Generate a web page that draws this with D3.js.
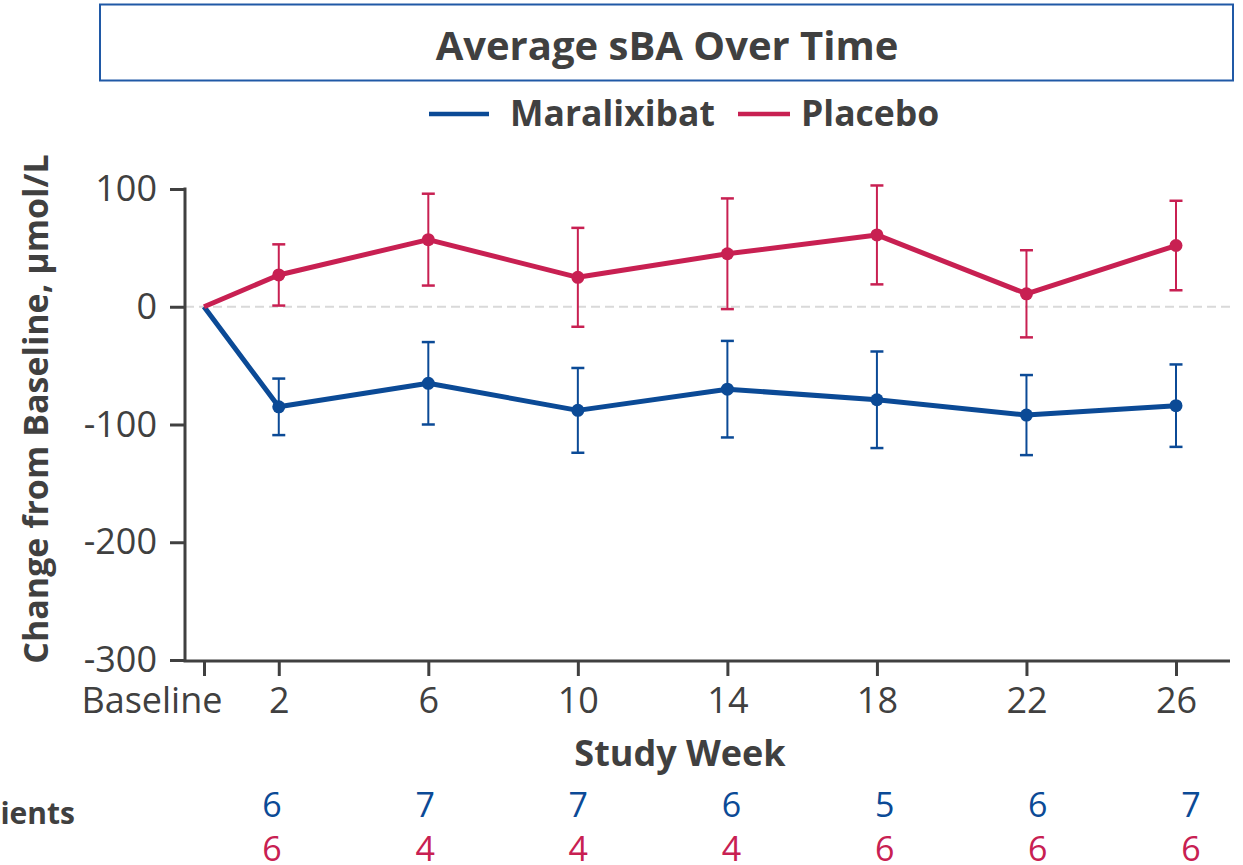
<!DOCTYPE html>
<html>
<head>
<meta charset="utf-8">
<script src="https://cdn.jsdelivr.net/npm/d3@7"></script>
<style>
  html, body { margin: 0; padding: 0; background: #ffffff; }
  svg { display: block; font-family: "Open Sans", "Noto Sans", sans-serif; }
</style>
</head>
<body>
<svg id="chart" width="1243" height="865"></svg>
<script>
// Study weeks (0 = baseline) and tick labels
const weeks = [0, 2, 6, 10, 14, 18, 22, 26];
const weekLabels = ["Baseline", "2", "6", "10", "14", "18", "22", "26"];
const yTicks = [100, 0, -100, -200, -300];
const yTickLabels = ["100", "0", "-100", "-200", "-300"];

// Mean change from baseline in sBA (µmol/L) and error bar half-widths
const maralixibatMean = [0, -85, -65, -88, -70, -79, -92, -84];
const maralixibatErr  = [null, 24, 35, 36, 41, 41, 34, 35];
const placeboMean = [0, 27, 57, 25, 45, 61, 11, 52];
const placeboErr  = [null, 26, 39, 42, 47, 42, 37, 38];

// Number of patients per visit (weeks 2..26)
const countWeeks = ["2", "6", "10", "14", "18", "22", "26"];
const maralixibatN = [6, 7, 7, 6, 5, 6, 7];
const placeboN = [6, 4, 4, 4, 6, 6, 6];

const BLUE = "#0b4a96";
const RED = "#c82052";
const TEXT = "#404040";

const svg = d3.select("#chart");

const x = d3.scaleLinear().domain([0, 26]).range([204, 1176]);
const y = d3.scaleLinear().domain([-300, 100]).range([660, 189]);
const axisX = 185;   // y axis position
const axisY = 661;   // x axis position

// Title box
svg.append("rect")
  .attr("x", 100).attr("y", 4.5).attr("width", 1133).attr("height", 76)
  .attr("fill", "none").attr("stroke", "#2059a6").attr("stroke-width", 2);
svg.append("text")
  .attr("x", 667).attr("y", 60)
  .attr("text-anchor", "middle")
  .attr("font-size", 40).attr("font-weight", 700).attr("fill", TEXT)
  .text("Average sBA Over Time");

// Legend
const legend = [
  { name: "Maralixibat", color: BLUE, x1: 429, x2: 489, tx: 510 },
  { name: "Placebo", color: RED, x1: 738, x2: 790, tx: 801 }
];
legend.forEach(d => {
  svg.append("line")
    .attr("x1", d.x1).attr("x2", d.x2).attr("y1", 114).attr("y2", 114)
    .attr("stroke", d.color).attr("stroke-width", 4.5);
  svg.append("text")
    .attr("x", d.tx).attr("y", 126)
    .attr("font-size", 35.5).attr("font-weight", 700).attr("fill", TEXT)
    .text(d.name);
});

// Zero reference line
svg.append("line")
  .attr("x1", axisX).attr("x2", 1232)
  .attr("y1", y(0)).attr("y2", y(0))
  .attr("stroke", "#d9d9d9").attr("stroke-width", 2)
  .attr("stroke-dasharray", "9,5");

// Y axis
const yAxis = svg.append("g")
  .attr("transform", `translate(${axisX},0)`)
  .call(d3.axisLeft(y).tickValues(yTicks)
    .tickFormat((d, i) => yTickLabels[i])
    .tickSize(15).tickSizeOuter(0).tickPadding(13));
yAxis.select(".domain").remove();
yAxis.append("line")
  .attr("x1", 0).attr("x2", 0).attr("y1", y(100) - 1.5).attr("y2", axisY)
  .attr("stroke", TEXT).attr("stroke-width", 3);
yAxis.selectAll(".tick line").attr("stroke", TEXT).attr("stroke-width", 3);
yAxis.selectAll(".tick text")
  .attr("font-size", 36).attr("fill", TEXT).attr("font-family", "Open Sans");

// X axis
const xAxis = svg.append("g")
  .attr("transform", `translate(0,${axisY})`)
  .call(d3.axisBottom(x).tickValues(weeks)
    .tickFormat((d, i) => weekLabels[i])
    .tickSize(15).tickSizeOuter(0).tickPadding(11));
xAxis.select(".domain").remove();
xAxis.append("line")
  .attr("x1", axisX - 1.5).attr("x2", 1230).attr("y1", 0).attr("y2", 0)
  .attr("stroke", TEXT).attr("stroke-width", 3);
xAxis.selectAll(".tick line").attr("stroke", TEXT).attr("stroke-width", 3);
xAxis.selectAll(".tick text")
  .attr("font-size", 36).attr("fill", TEXT).attr("font-family", "Open Sans");
// the "Baseline" label sits to the left of its tick so it clears week 2
xAxis.selectAll(".tick text").filter(d => d === 0)
  .attr("text-anchor", "end").attr("x", 18);

// Axis titles
svg.append("text")
  .attr("transform", "translate(48,409) rotate(-90)")
  .attr("text-anchor", "middle")
  .attr("font-size", 34).attr("font-weight", 700).attr("fill", TEXT)
  .text("Change from Baseline, µmol/L");
svg.append("text")
  .attr("x", 680).attr("y", 766)
  .attr("text-anchor", "middle")
  .attr("font-size", 36).attr("font-weight", 700).attr("fill", TEXT)
  .text("Study Week");

// Series
const series = [
  { name: "Maralixibat", color: BLUE, mean: maralixibatMean, err: maralixibatErr },
  { name: "Placebo", color: RED, mean: placeboMean, err: placeboErr }
];
const line = d3.line().x(d => x(d.w)).y(d => y(d.v));

series.forEach(s => {
  const pts = weeks.map((w, i) => ({ w, v: s.mean[i], e: s.err[i] }));
  const g = svg.append("g");
  const withErr = pts.filter(p => p.e != null);

  // error bars
  g.selectAll(".eb").data(withErr).enter().append("line")
    .attr("x1", d => x(d.w)).attr("x2", d => x(d.w))
    .attr("y1", d => y(d.v + d.e)).attr("y2", d => y(d.v - d.e))
    .attr("stroke", s.color).attr("stroke-width", 2);
  ["top", "bottom"].forEach(side => {
    g.selectAll(".cap-" + side).data(withErr).enter().append("line")
      .attr("x1", d => x(d.w) - 6.5).attr("x2", d => x(d.w) + 6.5)
      .attr("y1", d => y(side === "top" ? d.v + d.e : d.v - d.e))
      .attr("y2", d => y(side === "top" ? d.v + d.e : d.v - d.e))
      .attr("stroke", s.color).attr("stroke-width", 2.5);
  });

  // mean line
  g.append("path").datum(pts)
    .attr("d", line)
    .attr("fill", "none").attr("stroke", s.color)
    .attr("stroke-width", 5).attr("stroke-linejoin", "round");

  // markers (no marker at baseline)
  g.selectAll(".dot").data(withErr).enter().append("circle")
    .attr("cx", d => x(d.w)).attr("cy", d => y(d.v)).attr("r", 6.5)
    .attr("fill", s.color);
});

// Patient counts table
const xc = d3.scalePoint().domain(countWeeks).range([272, 1191]);
svg.append("text")
  .attr("x", 75).attr("y", 824)
  .attr("text-anchor", "end")
  .attr("font-size", 30).attr("font-weight", 700).attr("fill", TEXT)
  .text("No. of patients");
[[maralixibatN, BLUE, 817], [placeboN, RED, 861]].forEach(([vals, color, yy]) => {
  svg.selectAll(null).data(vals).enter().append("text")
    .attr("x", (d, i) => xc(countWeeks[i])).attr("y", yy)
    .attr("text-anchor", "middle")
    .attr("font-size", 34).attr("fill", color)
    .text(d => d);
});
</script>
</body>
</html>
